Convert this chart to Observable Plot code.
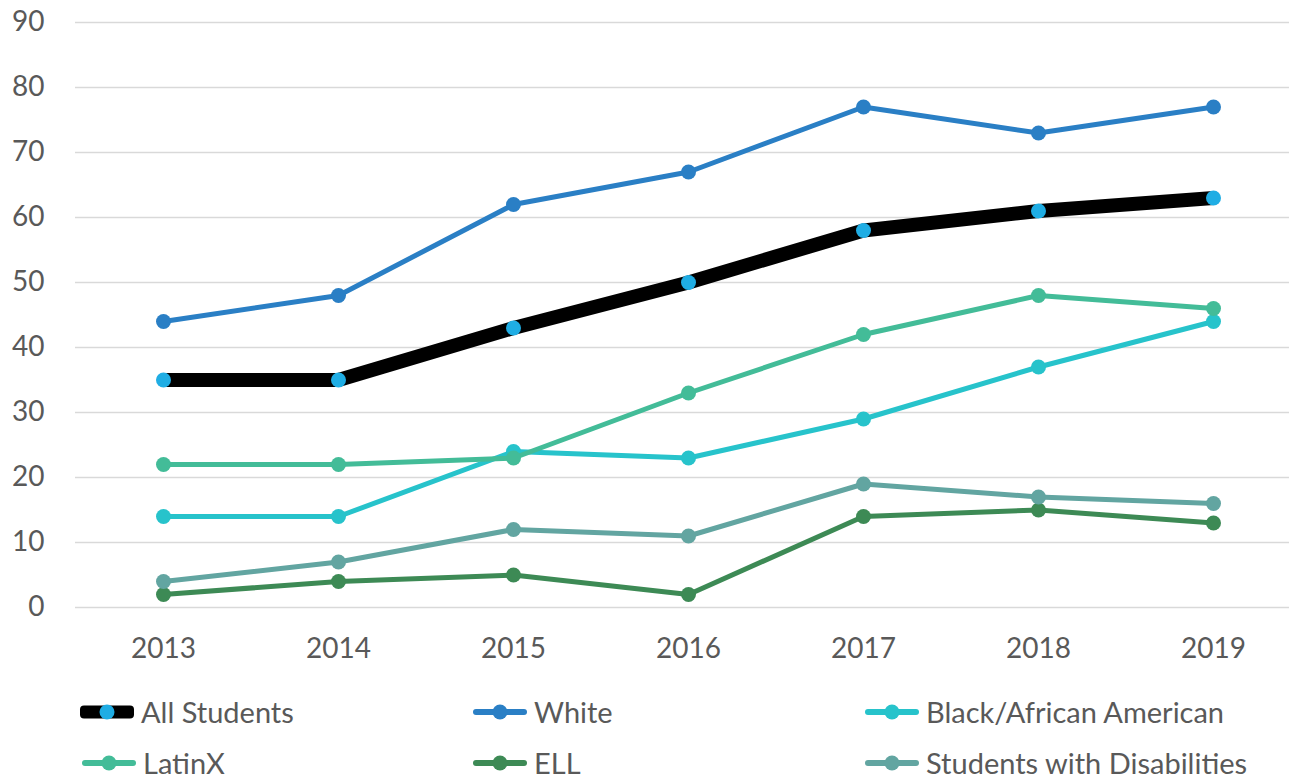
<!DOCTYPE html>
<html>
<head>
<meta charset="utf-8">
<script src="https://cdn.jsdelivr.net/npm/d3@7"></script>
<script src="https://cdn.jsdelivr.net/npm/@observablehq/plot@0.6"></script>
<style>
  html, body { margin: 0; padding: 0; background: #fff; }
  #wrap { position: relative; width: 1289px; height: 780px; overflow: hidden; font-family: Lato, "Open Sans", sans-serif; }
  #chart { position: absolute; left: 0; top: 0; }
  .item { position: absolute; display: flex; align-items: center; height: 34px; line-height: 34px; font-size: 29px; color: #595959; white-space: nowrap; }
  .sw { position: relative; width: 58px; height: 34px; margin-right: 5px; }
  .sw .ln { position: absolute; left: 2px; right: 2px; top: 50%; transform: translateY(-50%); border-radius: 4px; }
  .sw .dt { position: absolute; left: 50%; top: 50%; width: 15px; height: 15px; border-radius: 50%; transform: translate(-50%, -50%); }
</style>
</head>
<body>
<div id="wrap">
  <div id="chart"></div>
  <div id="legend"></div>
</div>
<script>
const years = ["2013", "2014", "2015", "2016", "2017", "2018", "2019"];
const seriesNames = ["All Students", "White", "Black/African American", "LatinX", "ELL", "Students with Disabilities"];
const allStudents = [35, 35, 43, 50, 58, 61, 63];
const white = [44, 48, 62, 67, 77, 73, 77];
const blackAA = [14, 14, 24, 23, 29, 37, 44];
const latinX = [22, 22, 23, 33, 42, 48, 46];
const ell = [2, 4, 5, 2, 14, 15, 13];
const swd = [4, 7, 12, 11, 19, 17, 16];
const yTicks = [0, 10, 20, 30, 40, 50, 60, 70, 80, 90];

const lineColors = ["#000000", "#2A7FC5", "#27C3CB", "#43BC98", "#3D8A55", "#62A5A1"];
const dotColors  = ["#1FADE4", "#2A7FC5", "#27C3CB", "#43BC98", "#3D8A55", "#62A5A1"];
const lineWidths = [14, 5, 5, 5, 5, 5];

const seriesValues = [allStudents, white, blackAA, latinX, ell, swd];
const rows = [];
seriesNames.forEach((name, i) => {
  years.forEach((yr, j) => rows.push({series: name, year: yr, value: seriesValues[i][j]}));
});

const marks = [
  Plot.ruleY(yTicks, {stroke: "#d9d9d9", strokeWidth: 1.5}),
  Plot.axisY({ticks: yTicks, tickSize: 0, tickPadding: 31, label: null}),
  Plot.axisX({tickSize: 0, tickPadding: 31, label: null})
];
seriesNames.forEach((name, i) => {
  const data = rows.filter(d => d.series === name);
  marks.push(Plot.line(data, {x: "year", y: "value", stroke: lineColors[i], strokeWidth: lineWidths[i], strokeLinejoin: "round", strokeLinecap: "butt"}));
  marks.push(Plot.dot(data, {x: "year", y: "value", r: 7.5, fill: dotColors[i], stroke: "none"}));
});

const plot = Plot.plot({
  width: 1289,
  height: 685,
  marginTop: 22,
  marginBottom: 78,
  marginLeft: 75,
  marginRight: 0,
  style: {fontFamily: "Lato, 'Open Sans', sans-serif", fontSize: "28px", color: "#595959", background: "#fff"},
  x: {type: "point", domain: years, range: [162, 1213], padding: 0},
  y: {domain: [0, 90], range: [607, 22]},
  marks
});
document.getElementById("chart").appendChild(plot);

// Legend (HTML, below the SVG)
const legendPos = [
  {left: 78, top: 695}, {left: 471, top: 695}, {left: 863, top: 695},
  {left: 80, top: 746}, {left: 471, top: 746}, {left: 863, top: 746}
];
const legend = document.getElementById("legend");
seriesNames.forEach((name, i) => {
  const it = document.createElement("div");
  it.className = "item";
  it.style.left = legendPos[i].left + "px";
  it.style.top = legendPos[i].top + "px";
  const sw = document.createElement("div");
  sw.className = "sw";
  const ln = document.createElement("div");
  ln.className = "ln";
  ln.style.background = lineColors[i];
  ln.style.height = (i === 0 ? 13 : 6) + "px";
  const dt = document.createElement("div");
  dt.className = "dt";
  dt.style.background = dotColors[i];
  sw.appendChild(ln); sw.appendChild(dt);
  const tx = document.createElement("span");
  tx.textContent = name;
  it.appendChild(sw); it.appendChild(tx);
  legend.appendChild(it);
});
</script>
</body>
</html>
